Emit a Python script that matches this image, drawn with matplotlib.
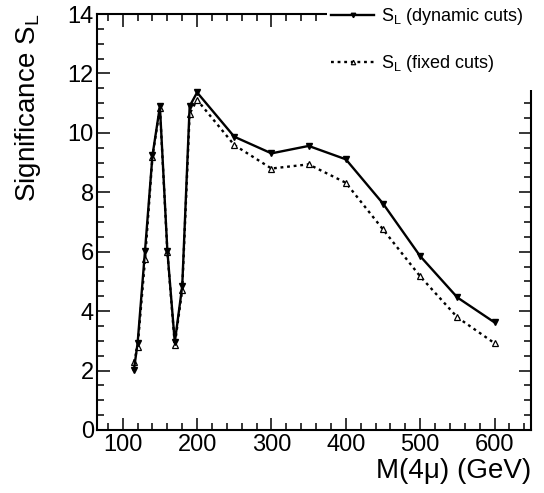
import matplotlib
matplotlib.use("Agg")
import matplotlib.pyplot as plt
from matplotlib.patches import Rectangle
from matplotlib.ticker import MultipleLocator

plt.rcParams['font.family'] = ['Liberation Sans', 'DejaVu Sans']
plt.rcParams['mathtext.fontset'] = 'custom'
plt.rcParams['mathtext.rm'] = 'Liberation Sans'
plt.rcParams['mathtext.it'] = 'Liberation Sans'

# Higgs mass points (GeV)
mass = [115, 120, 130, 140, 150, 160, 170, 180, 190, 200,
        250, 300, 350, 400, 450, 500, 550, 600]
# Significance with mass-dependent cuts
sig_dynamic = [2.02, 2.92, 6.04, 9.24, 10.89, 6.04, 2.95, 4.84, 10.9, 11.36,
               9.87, 9.31, 9.56, 9.11, 7.62, 5.85, 4.46, 3.62]
# Significance with a single fixed set of cuts
sig_fixed = [2.28, 2.79, 5.74, 9.2, 10.85, 6.0, 2.87, 4.72, 10.65, 11.11,
             9.59, 8.8, 8.94, 8.32, 6.75, 5.17, 3.79, 2.92]

W, H = 544, 493
fig = plt.figure(figsize=(W / 100, H / 100), dpi=100)
ax = fig.add_axes([96.7 / W, 1 - 430 / H, (531 - 96.7) / W, 416 / H])

ax.plot(mass, sig_dynamic, color='black', lw=1.7, ls='-',
        marker='v', ms=4, mfc='black', mec='black', zorder=4,
        label=r'S$_{\mathrm{L}}$ (dynamic cuts)')
ax.plot(mass, sig_fixed, color='black', lw=1.7, ls=(0, (1.2, 1.6)),
        marker='^', ms=4, mfc='white', mec='black', mew=0.9, zorder=3,
        label=r'S$_{\mathrm{L}}$ (fixed cuts)')

ax.set_xlim(65, 649)
ax.set_ylim(0, 14)
ax.xaxis.set_major_locator(MultipleLocator(100))
ax.xaxis.set_minor_locator(MultipleLocator(20))
ax.yaxis.set_major_locator(MultipleLocator(2))
ax.yaxis.set_minor_locator(MultipleLocator(0.5))
ax.tick_params(which='both', direction='in', top=True, right=True,
               labelsize=17, width=1.1, pad=3)
ax.tick_params(which='major', length=9)
ax.tick_params(which='minor', length=4.8)
ax.tick_params(axis='y', pad=2)
for sp in ax.spines.values():
    sp.set_linewidth(1.5)

ax.set_xlabel('M(4\u03bc) (GeV)', fontsize=20, loc='right', labelpad=1)
ax.set_ylabel(r'Significance S$_{\mathrm{L}}$', fontsize=20, loc='top',
              labelpad=18)

# white box behind the legend, covering the frame corner
ax.add_patch(Rectangle((327 / W, 1 - 90 / H), 1 - 327 / W, 90 / H,
                       transform=fig.transFigure, facecolor='white',
                       edgecolor='none', clip_on=False, zorder=6))
leg = ax.legend(loc='upper left', bbox_to_anchor=(331 / W, 1 - 6 / H),
                bbox_transform=fig.transFigure, frameon=False, fontsize=13,
                handlelength=2.4, handletextpad=0.35, labelspacing=1.45,
                borderpad=0, borderaxespad=0, markerscale=0.8)
leg.set_zorder(7)

fig.savefig('out.png', dpi=100)
